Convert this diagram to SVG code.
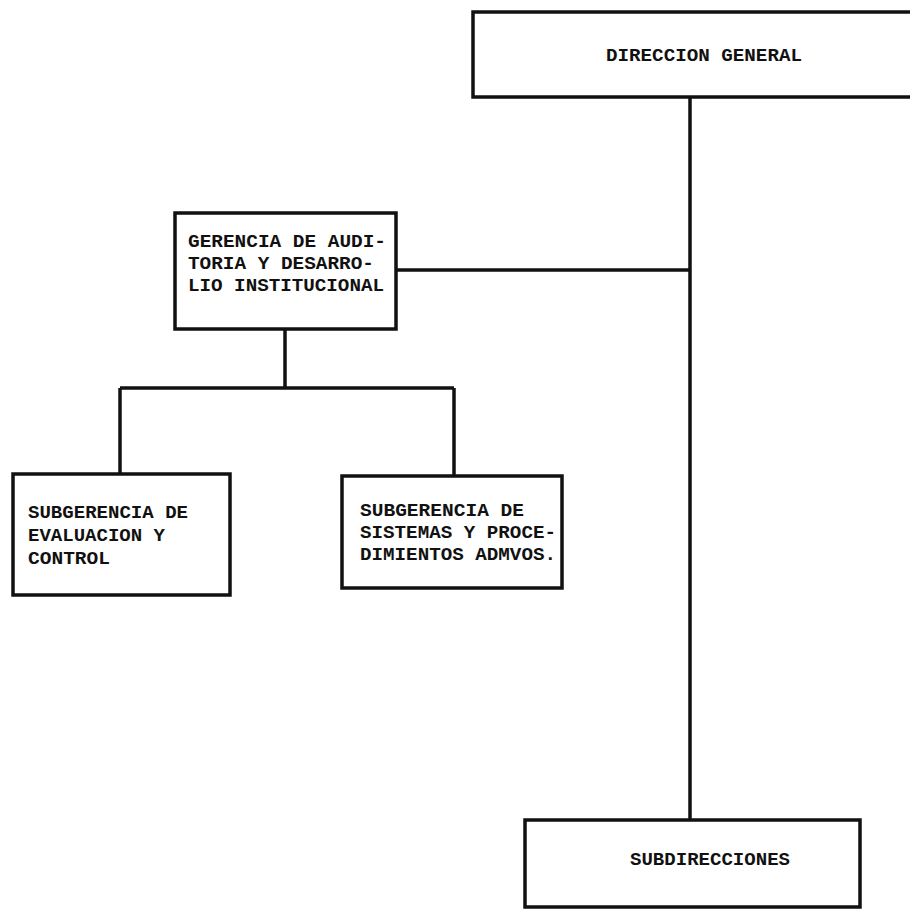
<svg xmlns="http://www.w3.org/2000/svg" width="910" height="910" viewBox="0 0 910 910">
  <style>
    .box { fill: #ffffff; stroke: #111111; stroke-width: 3.5; }
    .link { fill: none; stroke: #111111; stroke-width: 3.5; }
    .lbl { font-family: "Liberation Mono", "DejaVu Sans Mono", monospace; font-weight: bold; font-size: 19px; fill: #111111; }
  </style>
  <rect width="910" height="910" fill="#ffffff"/>

  <g id="connectors">
    <!-- trunk from the top box down to the sub-directions -->
    <line class="link" x1="690" y1="97" x2="690" y2="820"/>
    <!-- staff branch to the audit office -->
    <line class="link" x1="396" y1="270" x2="690" y2="270"/>
    <!-- audit office to its two sub-offices -->
    <line class="link" x1="285" y1="329" x2="285" y2="388"/>
    <line class="link" x1="120" y1="388" x2="454" y2="388"/>
    <line class="link" x1="120" y1="388" x2="120" y2="474"/>
    <line class="link" x1="454" y1="388" x2="454" y2="476"/>
  </g>

  <g id="direccion-general">
    <rect class="box" x="473" y="12" width="460" height="85"/>
    <text class="lbl" x="606" y="61" textLength="196" lengthAdjust="spacingAndGlyphs">DIRECCION GENERAL</text>
  </g>

  <g id="gerencia-auditoria">
    <rect class="box" x="175" y="213" width="221" height="116"/>
    <text class="lbl" x="188" y="247" textLength="198" lengthAdjust="spacingAndGlyphs">GERENCIA DE AUDI-</text>
    <text class="lbl" x="188" y="269" textLength="186" lengthAdjust="spacingAndGlyphs">TORIA Y DESARRO-</text>
    <text class="lbl" x="188" y="291" textLength="196" lengthAdjust="spacingAndGlyphs">LIO INSTITUCIONAL</text>
  </g>

  <g id="subgerencia-evaluacion">
    <rect class="box" x="13" y="474" width="217" height="121"/>
    <text class="lbl" x="28" y="518" textLength="160" lengthAdjust="spacingAndGlyphs">SUBGERENCIA DE</text>
    <text class="lbl" x="28" y="541" textLength="137" lengthAdjust="spacingAndGlyphs">EVALUACION Y</text>
    <text class="lbl" x="28" y="564" textLength="82" lengthAdjust="spacingAndGlyphs">CONTROL</text>
  </g>

  <g id="subgerencia-sistemas">
    <rect class="box" x="342" y="476" width="220" height="112"/>
    <text class="lbl" x="360" y="516" textLength="164" lengthAdjust="spacingAndGlyphs">SUBGERENCIA DE</text>
    <text class="lbl" x="360" y="538" textLength="196" lengthAdjust="spacingAndGlyphs">SISTEMAS Y PROCE-</text>
    <text class="lbl" x="360" y="560" textLength="196" lengthAdjust="spacingAndGlyphs">DIMIENTOS ADMVOS.</text>
  </g>

  <g id="subdirecciones">
    <rect class="box" x="525" y="820" width="335" height="87"/>
    <text class="lbl" x="630" y="865" textLength="160" lengthAdjust="spacingAndGlyphs">SUBDIRECCIONES</text>
  </g>
</svg>
